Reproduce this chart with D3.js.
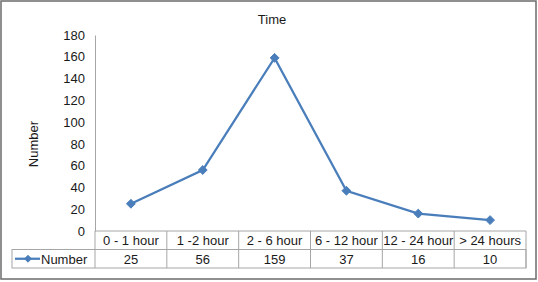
<!DOCTYPE html>
<html>
<head>
<meta charset="utf-8">
<script src="https://cdn.jsdelivr.net/npm/d3@7"></script>
<style>
  body { margin: 0; background: #fff; }
  text { font-family: "Liberation Sans", Arial, sans-serif; fill: #1a1a1a; }
</style>
</head>
<body>
<svg width="538" height="282"></svg>
<script>
var categories = ["0 - 1 hour", "1 -2 hour", "2 - 6 hour", "6 - 12 hour", "12 - 24 hour", "> 24 hours"]
var values = [25, 56, 159, 37, 16, 10]
var yTicks = [0, 20, 40, 60, 80, 100, 120, 140, 160, 180]
var seriesName = "Number"
var chartTitle = "Time"

var svg = d3.select("svg"),
    margin = {top: 35, right: 12, bottom: 51, left: 95},
    width = 538 - margin.left - margin.right,
    height = 282 - margin.top - margin.bottom,
    rowH = 18.5,
    legendLeft = 12

// outer frame
svg.append("rect")
  .attr("x", 1).attr("y", 1).attr("width", 535).attr("height", 278)
  .attr("fill", "#fff").attr("stroke", "#6b6b6b").attr("stroke-width", 1.5)

var g = svg.append("g").attr("transform", "translate(" + margin.left + "," + margin.top + ")")

var x = d3.scaleBand().domain(categories).range([0, width])
var y = d3.scaleLinear().domain([0, 180]).range([height, 0])

svg.append("text")
  .attr("x", 272).attr("y", 24)
  .attr("text-anchor", "middle")
  .style("font-size", "13px")
  .text(chartTitle)

// y axis
var yAxis = g.append("g").call(d3.axisLeft(y).tickValues(yTicks).tickSize(0).tickPadding(10))
yAxis.select(".domain").attr("stroke", "#a6a6a6")
yAxis.selectAll("text").style("font-size", "13px").style("font-family", "Liberation Sans, Arial, sans-serif").attr("fill", "#1a1a1a")

svg.append("text")
  .attr("transform", "translate(38,144) rotate(-90)")
  .attr("text-anchor", "middle")
  .style("font-size", "13px")
  .text("Number")

// data table
var tbl = g.append("g").attr("transform", "translate(0," + height + ")")
var lineCol = "#a6a6a6"
tbl.append("rect")
  .attr("x", legendLeft - margin.left).attr("y", rowH)
  .attr("width", width + margin.left - legendLeft).attr("height", rowH)
  .attr("fill", "none").attr("stroke", lineCol)
tbl.append("line")
  .attr("x1", 0).attr("x2", width).attr("y1", 0).attr("y2", 0)
  .attr("stroke", lineCol)
tbl.append("line")
  .attr("x1", width).attr("x2", width).attr("y1", 0).attr("y2", rowH * 2)
  .attr("stroke", lineCol)
tbl.selectAll(".sep").data(categories).enter().append("line")
  .attr("x1", function(d) { return x(d) }).attr("x2", function(d) { return x(d) })
  .attr("y1", 0).attr("y2", rowH * 2)
  .attr("stroke", lineCol)
tbl.selectAll(".cat").data(categories).enter().append("text")
  .attr("x", function(d) { return x(d) + x.bandwidth() / 2 })
  .attr("y", rowH / 2 + 5)
  .attr("text-anchor", "middle")
  .style("font-size", "13px")
  .text(function(d) { return d })
tbl.selectAll(".val").data(values).enter().append("text")
  .attr("x", function(d, i) { return x(categories[i]) + x.bandwidth() / 2 })
  .attr("y", rowH * 1.5 + 5)
  .attr("text-anchor", "middle")
  .style("font-size", "13px")
  .text(function(d) { return d })

// legend key
var lx = legendLeft - margin.left
tbl.append("line")
  .attr("x1", lx + 3).attr("x2", lx + 28).attr("y1", rowH * 1.5).attr("y2", rowH * 1.5)
  .attr("stroke", "#4a7ebb").attr("stroke-width", 2.25)
tbl.append("path")
  .attr("transform", "translate(" + (lx + 16) + "," + rowH * 1.5 + ")")
  .attr("d", d3.symbol(d3.symbolDiamond2, 30))
  .attr("fill", "#4a7ebb").attr("stroke", "#4a7ebb")
tbl.append("text")
  .attr("x", lx + 29).attr("y", rowH * 1.5 + 5)
  .style("font-size", "13px")
  .text(seriesName)

// series
var line = d3.line()
  .x(function(d, i) { return x(categories[i]) + x.bandwidth() / 2 })
  .y(function(d) { return y(d) })

g.append("path")
  .datum(values)
  .attr("fill", "none")
  .attr("stroke", "#4a7ebb")
  .attr("stroke-width", 2.25)
  .attr("d", line)

g.selectAll(".pt").data(values).enter().append("path")
  .attr("transform", function(d, i) { return "translate(" + (x(categories[i]) + x.bandwidth() / 2) + "," + y(d) + ")" })
  .attr("d", d3.symbol(d3.symbolDiamond2, 50))
  .attr("fill", "#4a7ebb").attr("stroke", "#4a7ebb")
</script>
</body>
</html>
